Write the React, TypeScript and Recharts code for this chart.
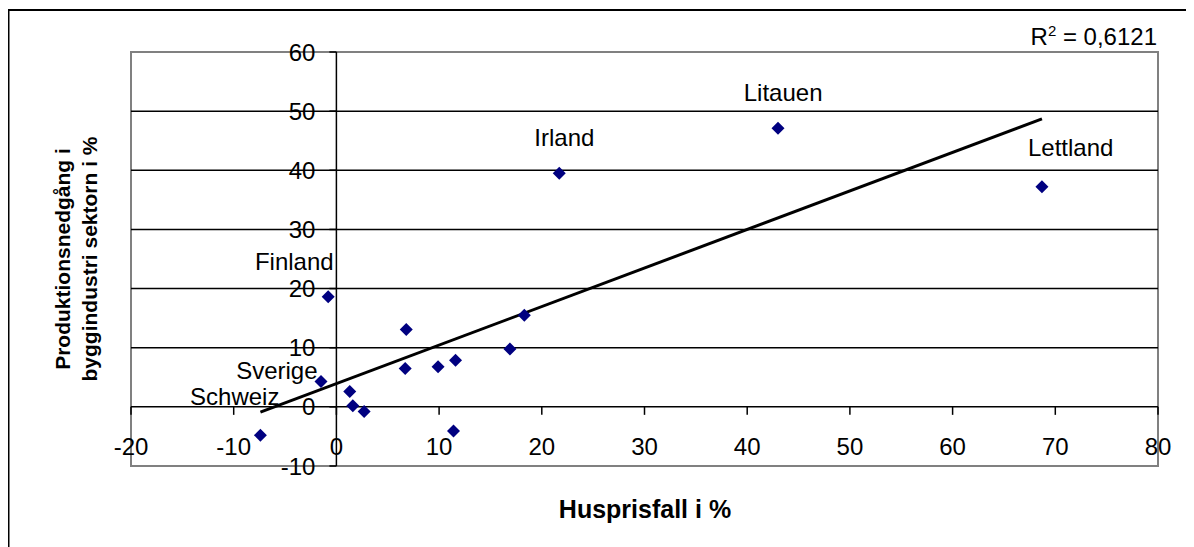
import React from 'react';
import { ScatterChart, Scatter, XAxis, YAxis, ReferenceLine, ReferenceArea } from 'recharts';

// Data points (Huspris fall %, Produktionsnedgång %)
const pointX = [68.7, 43.0, 21.7, -0.8, -1.5, -7.4, 6.8, 6.7, 9.9, 11.6, 1.3, 1.6, 2.7, 11.4, 18.3, 16.9];
const pointY = [37.2, 47.1, 39.5, 18.6, 4.3, -4.8, 13.1, 6.5, 6.8, 7.9, 2.6, 0.2, -0.8, -4.1, 15.5, 9.8];

// Country labels, placed at data coordinates
const labelNames = ['Litauen', 'Irland', 'Lettland', 'Finland', 'Sverige', 'Schweiz'];
const labelX = [43.5, 22.2, 71.5, -4.1, -5.8, -9.9];
const labelY = [53.2, 45.6, 43.9, 24.5, 6.2, 1.7];

// Linear trend line end points
const trendX = [-7.4, 68.7];
const trendY = [-0.9, 48.7];

const xTicks = [-20, -10, 0, 10, 20, 30, 40, 50, 60, 70, 80];
const yTicks = [-10, 0, 10, 20, 30, 40, 50, 60];
const gridValues = [10, 20, 30, 40, 50];

const r2Value = '0,6121';
const xTitle = 'Husprisfall i %';
const yTitleLines = ['Produktionsnedgång i', 'byggindustri sektorn i %'];

const W = 1186;
const H = 539;
const margin = { top: 44, right: 36, bottom: 81, left: 123 };
const FONT = '"Liberation Sans", Arial, Helvetica, sans-serif';

const points = pointX.map((x, i) => ({ x, y: pointY[i] }));
const labels = labelNames.map((name, i) => ({ x: labelX[i], y: labelY[i], name }));
const xTickData = xTicks.map((x) => ({ x, y: 0 }));
const yTickData = yTicks.map((y) => ({ x: 0, y }));

const Diamond = (p: any) => {
  const s = 6.5;
  return (
    <polygon
      points={`${p.cx},${p.cy - s} ${p.cx + s},${p.cy} ${p.cx},${p.cy + s} ${p.cx - s},${p.cy}`}
      fill="#000080"
    />
  );
};

const XTickShape = (p: any) => (
  <g>
    <line x1={p.cx} y1={p.cy} x2={p.cx} y2={p.cy + 8} stroke="#000" strokeWidth={1.5} />
    <text x={p.cx} y={p.cy + 48} textAnchor="middle" fontSize={24} fontFamily={FONT} fill="#000">
      {String(p.payload.x)}
    </text>
  </g>
);

const YTickShape = (p: any) => (
  <g>
    <line x1={p.cx - 7} y1={p.cy} x2={p.cx} y2={p.cy} stroke="#000" strokeWidth={1.5} />
    <text x={p.cx - 21} y={p.cy + 8.5} textAnchor="end" fontSize={24} fontFamily={FONT} fill="#000">
      {String(p.payload.y)}
    </text>
  </g>
);

const LabelShape = (p: any) => (
  <text x={p.cx} y={p.cy + 8.5} textAnchor="middle" fontSize={24} fontFamily={FONT} fill="#000">
    {p.payload.name}
  </text>
);

export default function App() {
  return (
    <div style={{ position: 'relative', width: W, height: H, background: '#fff' }}>
      <ScatterChart width={W} height={H} margin={margin}>
        <XAxis type="number" dataKey="x" domain={[-20, 80]} hide />
        <YAxis type="number" dataKey="y" domain={[-10, 60]} hide />
        <ReferenceArea
          x1={-20}
          x2={80}
          y1={-10}
          y2={60}
          fill="none"
          fillOpacity={0}
          stroke="#808080"
          strokeWidth={2}
          ifOverflow="visible"
        />
        {gridValues.map((v) => (
          <ReferenceLine key={v} y={v} stroke="#000" strokeWidth={1.5} />
        ))}
        <ReferenceLine y={0} stroke="#000" strokeWidth={1.5} />
        <ReferenceLine x={0} stroke="#000" strokeWidth={1.5} />
        <ReferenceLine
          segment={[
            { x: trendX[0], y: trendY[0] },
            { x: trendX[1], y: trendY[1] },
          ]}
          stroke="#000"
          strokeWidth={3}
          ifOverflow="visible"
        />
        <Scatter data={xTickData} shape={XTickShape} isAnimationActive={false} />
        <Scatter data={yTickData} shape={YTickShape} isAnimationActive={false} />
        <Scatter data={points} shape={Diamond} isAnimationActive={false} />
        <Scatter data={labels} shape={LabelShape} isAnimationActive={false} />
      </ScatterChart>
      <svg
        width={W}
        height={H}
        style={{ position: 'absolute', left: 0, top: 0, pointerEvents: 'none', overflow: 'visible' }}
      >
        <line x1={0.5} y1={2} x2={W} y2={2} stroke="#000" strokeWidth={2} />
        <line x1={0.5} y1={1} x2={0.5} y2={H} stroke="#000" strokeWidth={2} />
        <text x={1149} y={37} textAnchor="end" fontSize={24} fontFamily={FONT} fill="#000">
          R<tspan dy={-9} fontSize={15}>2</tspan>
          <tspan dy={9}>{` = ${r2Value}`}</tspan>
        </text>
        <text x={637} y={510} textAnchor="middle" fontSize={25} fontWeight="bold" fontFamily={FONT} fill="#000">
          {xTitle}
        </text>
        <text
          transform="translate(0,251) rotate(-90)"
          textAnchor="middle"
          fontSize={21}
          fontWeight="bold"
          fontFamily={FONT}
          fill="#000"
        >
          <tspan x={0} y={62}>{yTitleLines[0]}</tspan>
          <tspan x={0} y={89}>{yTitleLines[1]}</tspan>
        </text>
      </svg>
    </div>
  );
}
